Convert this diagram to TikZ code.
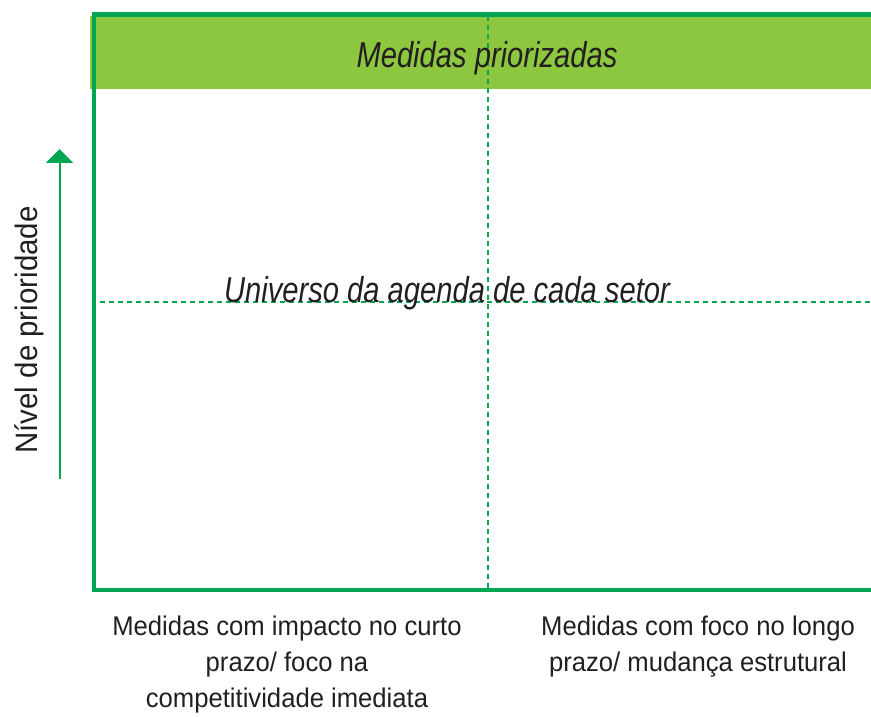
\documentclass[tikz,border=0pt]{standalone}
\usepackage{fontspec}
\setmainfont{Liberation Sans}[FakeStretch=0.95]
\newfontfamily\condit{Liberation Sans}[FakeStretch=0.81, UprightFont=*-Italic]
\usetikzlibrary{arrows.meta}
\definecolor{frameg}{HTML}{00A651}
\definecolor{bandg}{HTML}{8DC63F}
\definecolor{txt}{HTML}{231F20}
\tikzset{
  dotline/.style={frameg, line width=2pt, dash pattern=on 5pt off 4pt},
  lbl/.style={text=txt, font=\fontsize{27}{36}\selectfont, inner sep=0pt, align=center},
  ilbl/.style={text=txt, font=\condit\fontsize{36}{40}\selectfont, inner sep=0pt}
}
\begin{document}
\begin{tikzpicture}[x=1pt,y=1pt]
\useasboundingbox (0,0) rectangle (871,717);
% band
\fill[bandg] (90,628) rectangle (871,701);
% frame
\coordinate (tr) at (871,702.5);
\coordinate (tl) at (94,702.5);
\coordinate (bl) at (94,127);
\coordinate (br) at (871,127);
\draw[frameg, line width=4.5pt, line join=miter] (tr) -- (tl) -- (bl) -- (br);
% dotted lines
\coordinate (vt) at (487.5,701);
\coordinate (vb) at (487.5,129);
\draw[dotline] (vt) -- (vb);
\coordinate (hl) at (100,414.5);
\coordinate (hr) at (871,414.5);
\draw[dotline] (hl) -- (hr);
% arrow
\coordinate (a0) at (59.5,238);
\coordinate (a1) at (59.5,568);
\draw[frameg, line width=2pt, -{Triangle[length=14pt,width=27pt]}] (a0) -- (a1);
% texts
\node[ilbl] (title) at (487,659) {Medidas priorizadas};
\node[ilbl] (univ) at (447,424) {Universo da agenda de cada setor};
\node[text=txt, font=\fontsize{31}{36}\selectfont, inner sep=0pt, rotate=90] (yl) at (29,387) {Nível de prioridade};
\node[lbl] (bl1) at (287,52) {Medidas com impacto no curto\\prazo/ foco na\\competitividade imediata};
\node[lbl] (bl2) at (698,70) {Medidas com foco no longo\\prazo/ mudança estrutural};
\end{tikzpicture}
\end{document}
